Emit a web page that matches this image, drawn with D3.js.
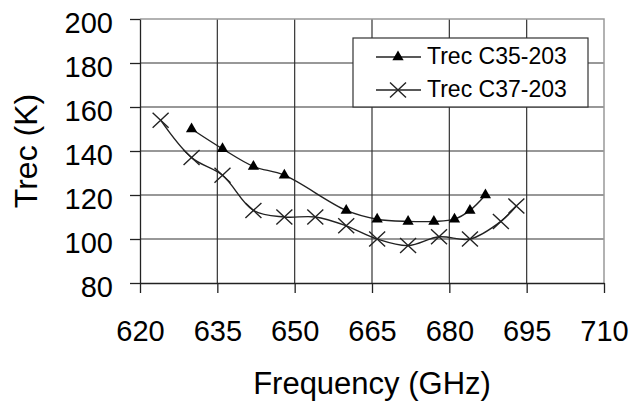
<!DOCTYPE html>
<html>
<head>
<meta charset="utf-8">
<script src="https://cdn.jsdelivr.net/npm/d3@7"></script>
<style>
    body { margin: 0; background: #fff; }
    svg { display: block; font-family: "Liberation Sans", Arial, sans-serif; }
</style>
</head>
<body>
<svg id="chart" width="631" height="404"></svg>
<script>
// values
const freqC35 = [630, 636, 642, 648, 660, 666, 672, 677, 681, 684, 687];
const trecC35 = [150, 141, 133, 129, 113, 109, 108, 108, 109, 113, 120];
const freqC37 = [624, 630, 636, 642, 648, 654, 660, 666, 672, 678, 684, 690, 693];
const trecC37 = [154, 137, 129, 113, 110, 110, 106, 100, 97, 101, 100, 108, 115];
const xTicks = [620, 635, 650, 665, 680, 695, 710];
const yTicks = [80, 100, 120, 140, 160, 180, 200];
const seriesNames = ["Trec C35-203", "Trec C37-203"];

const svg = d3.select("#chart");
const plotLeft = 140, plotRight = 604, plotTop = 19, plotBottom = 283;

const xScale = d3.scaleLinear().domain([620, 710]).range([plotLeft, plotRight]);
const yScale = d3.scaleLinear().domain([80, 200]).range([plotBottom, plotTop]);

// grid
svg.append("g")
    .selectAll("line")
    .data(xTicks.slice(1, -1))
    .join("line")
    .attr("x1", d => xScale(d)).attr("x2", d => xScale(d))
    .attr("y1", plotTop).attr("y2", plotBottom)
    .attr("stroke", "#333").attr("stroke-width", 1.2);
svg.append("g")
    .selectAll("line")
    .data(yTicks.slice(1, -1))
    .join("line")
    .attr("x1", plotLeft).attr("x2", plotRight)
    .attr("y1", d => yScale(d)).attr("y2", d => yScale(d))
    .attr("stroke", "#333").attr("stroke-width", 1.2);

// plot frame top / right
svg.append("path")
    .attr("d", `M${plotLeft},${plotTop}H${plotRight}V${plotBottom}`)
    .attr("fill", "none")
    .attr("stroke", "#999")
    .attr("stroke-width", 1.5);

// axes
const yAxis = svg.append("g")
    .attr("transform", `translate(${plotLeft},0)`)
    .call(d3.axisLeft(yScale).tickValues(yTicks).tickSize(10).tickSizeOuter(0).tickPadding(17));
const xAxis = svg.append("g")
    .attr("transform", `translate(0,${plotBottom})`)
    .call(d3.axisBottom(xScale).tickValues(xTicks).tickSize(10).tickSizeOuter(0).tickPadding(27));

[yAxis, xAxis].forEach(function (ax) {
    ax.select(".domain").attr("stroke", "#222").attr("stroke-width", 1.3);
    ax.selectAll(".tick line").attr("stroke", "#222").attr("stroke-width", 1.3);
    ax.selectAll("text")
        .attr("fill", "#000")
        .style("font-family", "'Liberation Sans', Arial, sans-serif")
        .style("font-size", "29px");
});
yAxis.selectAll("text").attr("dy", "0.48em");
xAxis.selectAll("text").attr("dy", "0.71em");

// axis titles
svg.append("text")
    .attr("x", (plotLeft + plotRight) / 2)
    .attr("y", 394)
    .attr("text-anchor", "middle")
    .style("font-size", "31px")
    .text("Frequency (GHz)");
svg.append("text")
    .attr("transform", `translate(37, ${(plotTop + plotBottom) / 2}) rotate(-90)`)
    .attr("text-anchor", "middle")
    .style("font-size", "32px")
    .text("Trec (K)");

// lines
const line = d3.line()
    .x(d => xScale(d[0]))
    .y(d => yScale(d[1]))
    .curve(d3.curveCatmullRom.alpha(0.5));

const dataC35 = freqC35.map((f, i) => [f, trecC35[i]]);
const dataC37 = freqC37.map((f, i) => [f, trecC37[i]]);

svg.append("path")
    .datum(dataC35)
    .attr("fill", "none")
    .attr("stroke", "#222")
    .attr("stroke-width", 1.4)
    .attr("d", line);
svg.append("path")
    .datum(dataC37)
    .attr("fill", "none")
    .attr("stroke", "#222")
    .attr("stroke-width", 1.4)
    .attr("d", line);

const triangle = d3.symbol().type(d3.symbolTriangle).size(55);
const cross = "M-8,-7.5L8,7.5M-8,7.5L8,-7.5";

svg.append("g")
    .selectAll("path")
    .data(dataC35)
    .join("path")
    .attr("transform", d => `translate(${xScale(d[0])},${yScale(d[1])})`)
    .attr("d", triangle)
    .attr("fill", "#000");
svg.append("g")
    .selectAll("path")
    .data(dataC37)
    .join("path")
    .attr("transform", d => `translate(${xScale(d[0])},${yScale(d[1])})`)
    .attr("d", cross)
    .attr("fill", "none")
    .attr("stroke", "#222")
    .attr("stroke-width", 1.4);

// legend
const legend = svg.append("g");
legend.append("rect")
    .attr("x", 353).attr("y", 38)
    .attr("width", 235).attr("height", 69)
    .attr("fill", "#fff")
    .attr("stroke", "#333")
    .attr("stroke-width", 1.2);

seriesNames.forEach(function (name, i) {
    const ly = 57 + i * 33;
    legend.append("line")
        .attr("x1", 376).attr("x2", 421)
        .attr("y1", ly).attr("y2", ly)
        .attr("stroke", "#222").attr("stroke-width", 1.4);
    if (i == 0) {
        legend.append("path")
            .attr("transform", `translate(398,${ly})`)
            .attr("d", triangle)
            .attr("fill", "#000");
    } else {
        legend.append("path")
            .attr("transform", `translate(398,${ly})`)
            .attr("d", cross)
            .attr("fill", "none")
            .attr("stroke", "#222")
            .attr("stroke-width", 1.4);
    }
    legend.append("text")
        .attr("x", 427)
        .attr("y", ly + 7)
        .style("font-size", "23px")
        .text(name);
});
</script>
</body>
</html>
